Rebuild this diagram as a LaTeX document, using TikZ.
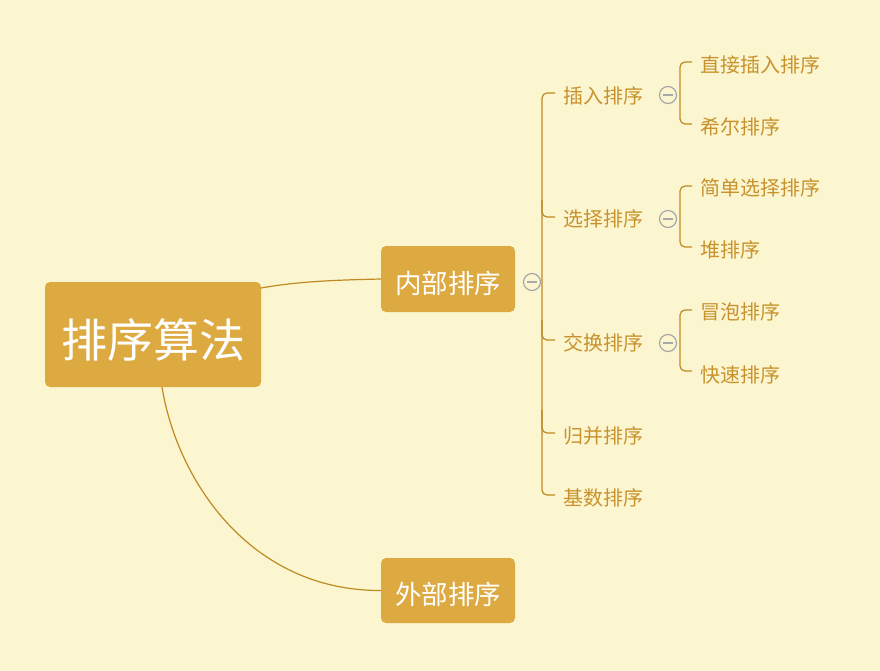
\documentclass[tikz,border=0pt]{standalone}
\usepackage{fontspec}
\setmainfont{Noto Sans CJK SC}
\definecolor{bg}{HTML}{FBF5D0}
\definecolor{boxfill}{HTML}{DDAA42}
\definecolor{linec}{HTML}{BF8A22}
\definecolor{leafc}{HTML}{C8922C}
\definecolor{iconc}{HTML}{A8A8A8}
\tikzset{
  mainbox/.style={fill=boxfill, rounded corners=5pt, text=white, inner sep=0pt, align=center},
  leaf/.style={text=leafc, font=\fontsize{20}{23}\selectfont, inner sep=0pt, anchor=west},
  conn/.style={draw=linec, line width=1.2pt},
  bus/.style={draw=linec, line width=1.2pt, rounded corners=5pt},
  icon/.style={circle, draw=iconc, line width=1.2pt, minimum size=17pt, inner sep=0pt, fill=bg},
}
\newcommand{\minusicon}[2]{%
  \node[icon] (#1) at (#2) {};
  \draw[iconc, line width=1.3pt] ([xshift=-5pt]#1.center) -- ([xshift=5pt]#1.center);}
\newcommand{\lowtext}[2]{\raisebox{-#1}[\height][\depth]{#2}}
\begin{document}
\begin{tikzpicture}[x=1pt,y=-1pt]
\fill[bg] (0,0) rectangle (880,671);
\useasboundingbox (0,0) rectangle (880,671);

% main nodes
\node[mainbox, minimum width=216pt, minimum height=105pt, font=\fontsize{46}{52}\selectfont] (root) at (153,334.5) {\lowtext{5pt}{排序算法}};
\node[mainbox, minimum width=134pt, minimum height=66pt, font=\fontsize{26.5}{30}\selectfont] (nb) at (448,279) {\lowtext{4pt}{内部排序}};
\node[mainbox, minimum width=134pt, minimum height=65pt, font=\fontsize{26.5}{30}\selectfont] (wb) at (448,590.5) {\lowtext{4pt}{外部排序}};

% root connectors
\coordinate (r1) at (261,288);
\coordinate (r2) at (162,387);
\draw[conn] (r1) .. controls (300,281) and (340,280) .. (nb.west);
\draw[conn] (r2) .. controls (177,480) and (250,591) .. (wb.west);

% level 1 leaves
\node[leaf] (a1) at (563,96) {插入排序};
\node[leaf] (a2) at (563,219) {选择排序};
\node[leaf] (a3) at (563,343) {交换排序};
\node[leaf] (a4) at (563,436) {归并排序};
\node[leaf] (a5) at (563,498) {基数排序};

% bus for level 1
\draw[bus] ([xshift=-8pt]a1.west |- 0,93) -- (542,93) -- (542,495) -- ([xshift=-8pt]a5.west |- 0,495);
\draw[bus] (542,200) -- (542,217) -- ([xshift=-8pt]a2.west |- 0,217);
\draw[bus] (542,320) -- (542,340) -- ([xshift=-8pt]a3.west |- 0,340);
\draw[bus] (542,410) -- (542,433) -- ([xshift=-8pt]a4.west |- 0,433);
\minusicon{c0}{532,282}

% level 2 leaves
\node[leaf] (b1) at (700,65) {直接插入排序};
\node[leaf] (b2) at (700,127) {希尔排序};
\node[leaf] (b3) at (700,188) {简单选择排序};
\node[leaf] (b4) at (700,250) {堆排序};
\node[leaf] (b5) at (700,312) {冒泡排序};
\node[leaf] (b6) at (700,375) {快速排序};

% level 2 buses
\draw[bus] ([xshift=-8pt]b1.west |- 0,62) -- (680,62) -- (680,124) -- ([xshift=-8pt]b2.west |- 0,124);
\draw[bus] ([xshift=-8pt]b3.west |- 0,186) -- (680,186) -- (680,247) -- ([xshift=-8pt]b4.west |- 0,247);
\draw[bus] ([xshift=-8pt]b5.west |- 0,310) -- (680,310) -- (680,371) -- ([xshift=-8pt]b6.west |- 0,371);
\minusicon{c1}{668,95}
\minusicon{c2}{668,219}
\minusicon{c3}{668,343}
\end{tikzpicture}
\end{document}
